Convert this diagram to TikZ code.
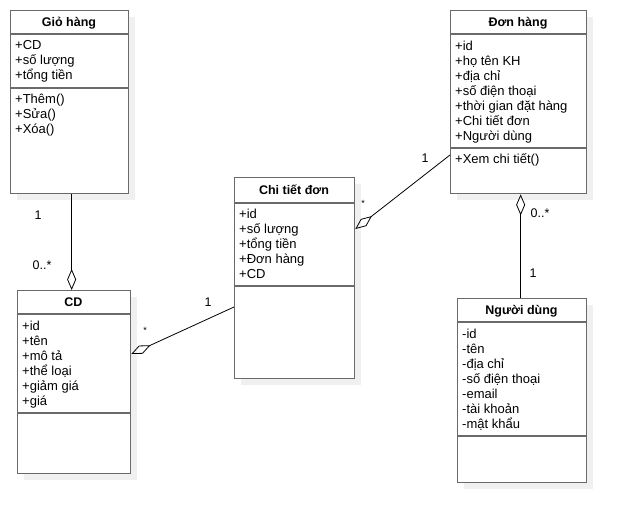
\documentclass[tikz,border=0pt]{standalone}
\usepackage{fontspec}
\setmainfont{Liberation Sans}
\usetikzlibrary{arrows.meta}
\definecolor{boxline}{HTML}{6A6A6A}
\definecolor{shadowgray}{HTML}{F0F0F0}
\tikzset{
  classbox/.style={draw=boxline, line width=1.3pt, fill=white, inner sep=0pt, anchor=north west},
  divider/.style={draw=boxline, line width=1.3pt},
  shade/.style={fill=shadowgray, draw=none},
  attr/.style={anchor=base west, inner sep=0pt, font=\fontsize{13}{15}\selectfont},
  ttl/.style={anchor=base, inner sep=0pt, font=\bfseries\fontsize{12.5}{15}\selectfont},
  mult/.style={inner sep=0pt, font=\fontsize{12.5}{14}\selectfont},
  conn/.style={draw=black, line width=0.8pt}
}
\begin{document}
\begin{tikzpicture}[x=1pt, y=-1pt]
\useasboundingbox (0,0) rectangle (626,522);
% shadows
\fill[shade] (17,17) rectangle (135,200);
\fill[shade] (457,17) rectangle (593,200);
\fill[shade] (241,184) rectangle (361,385);
\fill[shade] (24,297) rectangle (137,480);
\fill[shade] (464,305) rectangle (593,489);

% Gio hang
\node[classbox, minimum width=118pt, minimum height=183pt] (gio) at (10,10) {};
\node[ttl] (gio-t) at (69,26.5) {Giỏ hàng};
\draw[divider] (10,34) -- (128,34);
\draw[divider] (10,88) -- (128,88);
\foreach \t [count=\i] in {+CD, +số lượng, +tổng tiền}
  \node[attr] (gio-a\i) at (15,34+15*\i) {\t};
\foreach \t [count=\i] in {+Thêm(), +Sửa(), +Xóa()}
  \node[attr] (gio-m\i) at (15,88+15*\i) {\t};

% Don hang
\node[classbox, minimum width=136pt, minimum height=183pt] (don) at (450,10) {};
\node[ttl] (don-t) at (518,26.5) {Đơn hàng};
\draw[divider] (450,34) -- (586,34);
\draw[divider] (450,148) -- (586,148);
\foreach \t [count=\i] in {+id, +họ tên KH, +địa chỉ, +số điện thoại, +thời gian đặt hàng, +Chi tiết đơn, +Người dùng}
  \node[attr] (don-a\i) at (455,35+15*\i) {\t};
\node[attr] (don-m1) at (455,163) {+Xem chi tiết()};

% Chi tiet don
\node[classbox, minimum width=120pt, minimum height=201pt] (ctd) at (234,177) {};
\node[ttl] (ctd-t) at (294,194.5) {Chi tiết đơn};
\draw[divider] (234,203) -- (354,203);
\draw[divider] (234,286) -- (354,286);
\foreach \t [count=\i] in {+id, +số lượng, +tổng tiền, +Đơn hàng, +CD}
  \node[attr] (ctd-a\i) at (239,203+15*\i) {\t};

% CD
\node[classbox, minimum width=113pt, minimum height=183pt] (cd) at (17,290) {};
\node[ttl] (cd-t) at (73.5,306.5) {CD};
\draw[divider] (17,314) -- (130,314);
\draw[divider] (17,413) -- (130,413);
\foreach \t [count=\i] in {+id, +tên, +mô tả, +thể loại, +giảm giá, +giá}
  \node[attr] (cd-a\i) at (22,315+15*\i) {\t};

% Nguoi dung
\node[classbox, minimum width=129pt, minimum height=184pt] (nd) at (457,298) {};
\node[ttl] (nd-t) at (521.5,314.5) {Người dùng};
\draw[divider] (457,322) -- (586,322);
\draw[divider] (457,436) -- (586,436);
\foreach \t [count=\i] in {-id, -tên, -địa chỉ, -số điện thoại, -email, -tài khoản, -mật khẩu}
  \node[attr] (nd-a\i) at (462,323.5+15*\i) {\t};

% connectors
\draw[conn, -{Diamond[open, length=21pt, width=9pt]}] ([xshift=2pt]gio.south) -- ([xshift=-2.5pt]cd.north);
\draw[conn, -{Diamond[open, length=21pt, width=9pt]}] ([yshift=-145pt]don.north west) -- ([yshift=-52pt]ctd.north east);
\draw[conn, -{Diamond[open, length=21pt, width=9pt]}] ([yshift=-130pt]ctd.north west) -- ([yshift=-64pt]cd.north east);
\draw[conn, {Diamond[open, length=21pt, width=9pt]}-] ([xshift=2pt]don.south) -- ([xshift=-1.5pt]nd.north);

% multiplicities
\node[mult] (m1) at (38,215) {1};
\node[mult] (m2) at (42,265) {0..*};
\node[mult] (m3) at (425,158) {1};
\node[mult, font=\fontsize{9}{10}\selectfont] (m4) at (363,203) {*};
\node[mult] (m5) at (208,302) {1};
\node[mult, font=\fontsize{9}{10}\selectfont] (m6) at (145,330) {*};
\node[mult] (m7) at (540,213) {0..*};
\node[mult] (m8) at (533,273) {1};
\end{tikzpicture}
\end{document}
